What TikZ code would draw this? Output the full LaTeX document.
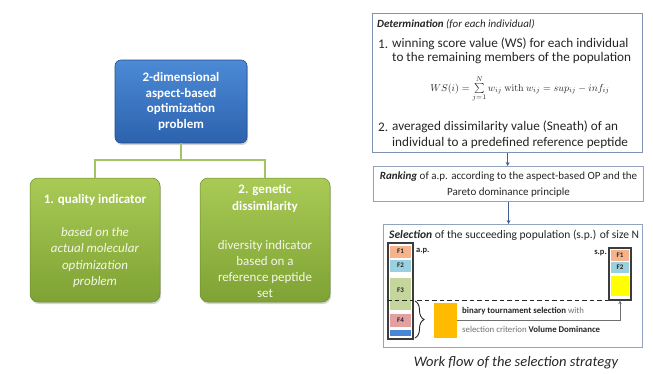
\documentclass[tikz,border=0pt]{standalone}
\usepackage[no-math]{fontspec}
\setmainfont{Carlito}
\usetikzlibrary{arrows.meta,decorations.pathreplacing,shadows}
\definecolor{bluetop}{HTML}{4C8AD6}
\definecolor{bluebot}{HTML}{2C62AE}
\definecolor{greentop}{HTML}{A9CA55}
\definecolor{greenbot}{HTML}{7EA234}
\definecolor{connc}{HTML}{A3C462}
\definecolor{framec}{HTML}{7F93B5}
\definecolor{arrowc}{HTML}{3F5F8F}
\definecolor{cellA}{HTML}{F7B48C}
\definecolor{cellB}{HTML}{9BD0E0}
\definecolor{cellC}{HTML}{C4D69C}
\definecolor{cellD}{HTML}{E3A0A0}
\definecolor{cellE}{HTML}{4A86D8}
\definecolor{cellY}{HTML}{FFFF00}
\definecolor{orangec}{HTML}{FFBB00}
\definecolor{bodyc}{HTML}{F4F7E8}
\definecolor{txtc}{HTML}{262626}
\definecolor{grayc}{HTML}{707070}
\tikzset{
  bluebox/.style={draw=bluebot!80!black, line width=0.6pt, rounded corners=6pt,
    top color=bluetop, bottom color=bluebot, text=white, align=center,
    font=\fontsize{13}{15.8}\selectfont\bfseries,
    drop shadow={opacity=0.35, shadow xshift=1pt, shadow yshift=-2pt}},
  greenbox/.style={draw=greenbot!85!black, line width=0.5pt, rounded corners=8pt,
    top color=greentop, bottom color=greenbot,
    drop shadow={opacity=0.35, shadow xshift=1pt, shadow yshift=-2pt}},
  ghead/.style={text=white, align=center, font=\fontsize{13}{17}\selectfont\bfseries},
  gbody/.style={text=bodyc, align=center},
  conn/.style={draw=connc, line width=1.8pt},
  frame/.style={draw=framec, line width=1.4pt, fill=white},
  frame2/.style={draw=framec!85, line width=1.1pt, fill=white},
  rtext/.style={text=txtc, anchor=west, inner sep=0pt},
  listfont/.style={font=\fontsize{13.2}{15}\selectfont},
  flowarrow/.style={draw=arrowc, line width=0.8pt, -{Stealth[length=4pt,width=4pt]}},
  column/.style={draw=txtc!90, line width=1.3pt},
  cell/.style={inner sep=0pt, text=txtc, font=\fontsize{7}{8}\selectfont\bfseries},
  link/.style={draw=grayc, line width=0.8pt, -{Stealth[length=3.5pt,width=3.5pt]}},
}
\begin{document}
\begin{tikzpicture}[x=1pt,y=-1pt]
\useasboundingbox (0,0) rectangle (653,373);

% ---------- left hierarchy ----------
\node[bluebox, minimum width=132pt, minimum height=83pt] (top) at (181,101.5)
  {2-dimensional\\aspect-based\\optimization\\problem};
\node[greenbox, minimum width=130pt, minimum height=124pt] (q) at (95,240) {};
\node[greenbox, minimum width=130pt, minimum height=124pt] (g) at (265,240) {};
\coordinate (j) at (181,160);
\draw[conn] (top.south) -- (j);
\draw[conn] (j) -| (q.north);
\draw[conn] (j) -| (g.north);

\node[ghead] (qh) at (95,200) {1. quality indicator};
\node[gbody, font=\fontsize{13}{16.3}\selectfont\itshape] (qb) at (95,257.5)
  {based on the\\actual molecular\\optimization\\problem};
\node[ghead] (gh) at (265,198.5) {2. genetic\\dissimilarity};
\node[gbody, font=\fontsize{13}{15.7}\selectfont] (gb) at (265,269)
  {diversity indicator\\based on a\\reference peptide\\set};

% ---------- right work flow ----------
\node[frame, anchor=north west, minimum width=270pt, minimum height=139pt] (det) at (372,13) {};
\node[rtext, font=\fontsize{11}{13}\selectfont] (dt) at (377,24)
  {\textbf{\textit{Determination}} \textit{(for each individual)}};
\node[rtext, listfont] (n1) at (378,44) {1.};
\node[rtext, listfont] (l1) at (392,44) {winning score value (WS) for each individual};
\node[rtext, listfont] (l2) at (392,58.5) {to the remaining members of the population};
\node[text=txtc, inner sep=0pt, font=\fontsize{10}{11}\selectfont] (fm) at (520,89)
  {$WS(i)=\sum\limits_{j=1}^{N} w_{ij}\ \mathrm{with}\ w_{ij}=sup_{ij}-inf_{ij}$};
\node[rtext, listfont] (n2) at (378,127) {2.};
\node[rtext, listfont] (l3) at (392,127) {averaged dissimilarity value (Sneath) of an};
\node[rtext, listfont] (l4) at (392,142.5) {individual to a predefined reference peptide};

\node[frame2, anchor=north west, minimum width=270pt, minimum height=35pt, align=center,
  text=txtc, font=\fontsize{11}{16}\selectfont, inner sep=0pt] (rank) at (373,166)
  {\textbf{\textit{Ranking}} of a.p. according to the aspect-based OP and the\\Pareto dominance principle};
\draw[flowarrow] (det.south) -- (det.south |- rank.north);

\node[frame2, anchor=north west, minimum width=259pt, minimum height=123pt] (sel) at (383,224) {};
\draw[flowarrow] (rank.south) -- (rank.south |- sel.north);
\node[rtext, font=\fontsize{11.5}{12}\selectfont] (st) at (389,235)
  {\textbf{\textit{Selection}} of the succeeding population (s.p.) of size N};

% a.p. column
\node[cell, fill=cellA, minimum width=21pt, minimum height=12pt] (f1) at (400.5,251.5) {F1};
\node[cell, fill=cellB, minimum width=21pt, minimum height=12pt] (f2) at (400.5,265.5) {F2};
\node[cell, fill=cellC, minimum width=21pt, minimum height=32pt] (f3) at (400.5,294) {};
\node[cell] (f3t) at (400.5,290) {F3};
\node[cell, fill=cellD, minimum width=21pt, minimum height=13pt] (f4) at (400.5,320.5) {F4};
\node[cell, fill=cellE, minimum width=21pt, minimum height=6pt] (f5) at (400.5,332.5) {};
\node[column, minimum width=25pt, minimum height=96pt, inner sep=0pt] (ap) at (400.5,291) {};
\node[rtext, font=\fontsize{8.5}{9}\selectfont\bfseries] (apt) at (416,251) {a.p.};

% s.p. column
\node[cell, fill=cellA, minimum width=18pt, minimum height=11pt] (s1) at (620,255.5) {F1};
\node[cell, fill=cellB, minimum width=18pt, minimum height=11pt] (s2) at (620,267.5) {F2};
\node[cell, fill=cellY, minimum width=18pt, minimum height=20pt] (s3) at (620,286) {};
\node[column, minimum width=22pt, minimum height=52pt, inner sep=0pt] (sp) at (620,274) {};
\node[text=txtc, anchor=east, inner sep=0pt, font=\fontsize{8.5}{9}\selectfont\bfseries] (spt) at (607,253) {s.p.};

% dashed cut
\draw[line width=1.3pt, draw=txtc, dash pattern=on 4.5pt off 3pt] (ap.west |- sp.south) -- (sp.south west);

% brace and tournament
\coordinate (b1) at (415,301);
\coordinate (b2) at (415,338);
\draw[draw=txtc, line width=0.9pt, decorate, decoration={brace, amplitude=9pt}] (b1) -- (b2);
\node[fill=orangec, minimum width=23pt, minimum height=35pt, inner sep=0pt] (or) at (445.5,320.5) {};
\node[rtext, text=grayc, font=\fontsize{8.8}{10}\selectfont] (t1) at (462,311)
  {\textcolor{txtc}{\textbf{binary tournament selection}} with};
\node[rtext, text=grayc, font=\fontsize{8.8}{10}\selectfont] (t2) at (462,329)
  {selection criterion \textcolor{txtc}{\textbf{Volume Dominance}}};
\draw[link] (or.east) -| (sp.south);

% caption
\node[text=txtc, font=\fontsize{14.5}{16}\selectfont\itshape] (cap) at (516,363) {Work flow of the selection strategy};
\end{tikzpicture}
\end{document}
